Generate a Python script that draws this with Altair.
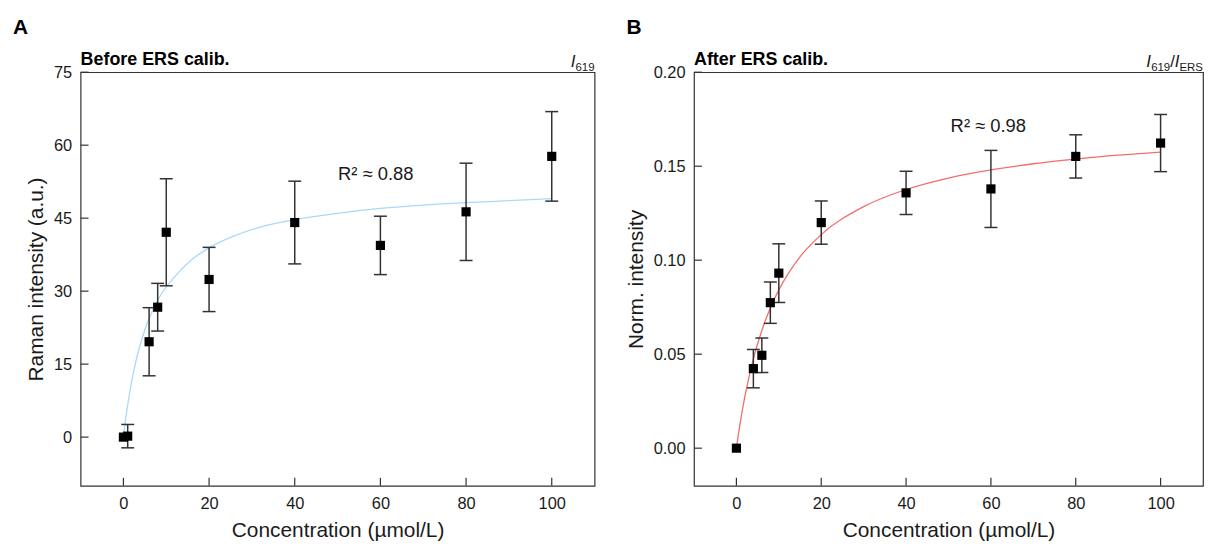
import altair as alt
import pandas as pd

FONT = "Liberation Sans"
INK = "#1a1a1a"

# ---- Panel A : before ERS calibration ----
conc_a = [0, 1, 6, 8, 10, 20, 40, 60, 80, 100]
raman_a = [0.0, 0.2, 19.6, 26.7, 42.1, 32.4, 44.1, 39.4, 46.3, 57.7]
err_a = [0.0, 2.4, 7.0, 4.9, 11.0, 6.6, 8.5, 6.0, 10.0, 9.2]
fit_x_a = [0, 0.5, 1, 2, 3, 5, 8, 12, 16, 20, 26, 33, 40, 50, 60, 70, 80, 90, 100]
fit_y_a = [0, 3.6, 6.6, 11.8, 15.9, 22.0, 28.1, 33.0, 36.5, 38.9, 41.4, 43.4, 44.7,
           46.0, 47.0, 47.7, 48.2, 48.6, 49.0]

# ---- Panel B : after ERS calibration ----
conc_b = [0, 4, 6, 8, 10, 20, 40, 60, 80, 100]
norm_b = [0.0, 0.0423, 0.0494, 0.0774, 0.0931, 0.1200, 0.1358, 0.1379, 0.1552, 0.1623]
err_b = [0.0, 0.0102, 0.0092, 0.0110, 0.0156, 0.0115, 0.0115, 0.0205, 0.0115, 0.0152]
fit_x_b = [0, 1, 2, 4, 6, 8, 10, 15, 20, 30, 40, 50, 60, 70, 80, 90, 100]
fit_y_b = [0, 0.0149, 0.0275, 0.0475, 0.0627, 0.0746, 0.0842, 0.1018, 0.1136, 0.1285,
           0.1376, 0.1437, 0.1480, 0.1513, 0.1538, 0.1559, 0.1575]

x_ticks = [0, 20, 40, 60, 80, 100]
y_ticks_a = [0, 15, 30, 45, 60, 75]
y_ticks_b = [0.00, 0.05, 0.10, 0.15, 0.20]

H = 416
TICK = 8


def panel(W, letter, title, xs, ys, errs, fx, fy, ydom, yticks, yfmt, ytitle,
          fit_color, r2_text, r2_xy, corner):
    pts = pd.DataFrame({"x": xs, "y": ys, "err": errs})
    pts["lo"] = pts["y"] - pts["err"]
    pts["hi"] = pts["y"] + pts["err"]
    fit = pd.DataFrame({"x": fx, "y": fy})

    xscale = alt.Scale(domain=[-10, 110], nice=False, zero=False)
    yscale = alt.Scale(domain=ydom, nice=False, zero=False)
    xaxis = alt.Axis(values=x_ticks, title="Concentration (µmol/L)", labelPadding=10,
                     titlePadding=8)
    yaxis = alt.Axis(values=yticks, format=yfmt, title=ytitle, labelPadding=9,
                     titlePadding=7)

    def X(f):
        return alt.X(f"{f}:Q", scale=xscale, axis=xaxis)

    def Y(f):
        return alt.Y(f"{f}:Q", scale=yscale, axis=yaxis)

    base = alt.Chart(pts)
    curve = alt.Chart(fit).mark_line(interpolate="monotone", color=fit_color,
                                     strokeWidth=1.3).encode(x=X("x"), y=Y("y"))
    bars = base.transform_filter("datum.err > 0")
    stem = bars.mark_rule(color="#333", strokeWidth=1.5).encode(
        x=X("x"), y=Y("lo"), y2="hi")
    cap_lo = bars.mark_tick(orient="horizontal", size=13, thickness=1.5,
                            color="#333", opacity=1).encode(x=X("x"), y=Y("lo"))
    cap_hi = bars.mark_tick(orient="horizontal", size=13, thickness=1.5,
                            color="#333", opacity=1).encode(x=X("x"), y=Y("hi"))
    squares = base.mark_square(size=85, color="black", opacity=1).encode(
        x=X("x"), y=Y("y"))

    ytk = alt.Chart(pd.DataFrame({"v": yticks})).mark_rule(
        color="#333", strokeWidth=1.2).encode(
        y=Y("v"), x=alt.value(0), x2=alt.value(TICK))
    xtk = alt.Chart(pd.DataFrame({"v": x_ticks})).mark_rule(
        color="#333", strokeWidth=1.2).encode(
        x=X("v"), y=alt.value(H), y2=alt.value(H - TICK))

    r2 = alt.Chart(pd.DataFrame({"x": [r2_xy[0]], "y": [r2_xy[1]], "t": [r2_text]})).mark_text(
        font=FONT, fontSize=18.5, align="left", baseline="alphabetic", color=INK
    ).encode(x=X("x"), y=Y("y"), text="t:N")

    one = pd.DataFrame({"k": [0]})
    lab = alt.Chart(one).mark_text(
        text=letter, font=FONT, fontSize=21, fontWeight="bold", align="left",
        baseline="alphabetic", color="black").encode(x=alt.value(-68), y=alt.value(-38))
    ttl = alt.Chart(one).mark_text(
        text=title, font=FONT, fontSize=18, fontWeight="bold", align="left",
        baseline="alphabetic", color="black").encode(x=alt.value(0), y=alt.value(-7))

    corner_layers = []
    for txt, off, size, style, dy in corner:
        corner_layers.append(alt.Chart(one).mark_text(
            text=txt, font=FONT, fontSize=size, fontStyle=style, align="right",
            baseline="alphabetic", color=INK).encode(x=alt.value(W - off), y=alt.value(dy)))

    return alt.layer(curve, stem, cap_lo, cap_hi, squares, ytk, xtk, r2, lab, ttl,
                     *corner_layers).properties(width=W, height=H)


corner_a = [("619", 0, 11.5, "normal", -1), ("I", 19.3, 17, "italic", -5)]
corner_b = [("ERS", 0, 11.5, "normal", -1), ("I", 23.6, 17, "italic", -5),
            ("/", 28.3, 17, "normal", -5), ("619", 33.0, 11.5, "normal", -1),
            ("I", 52.3, 17, "italic", -5)]

pa = panel(517, "A", "Before ERS calib.", conc_a, raman_a, err_a, fit_x_a, fit_y_a,
           [-10, 75], y_ticks_a, "d", "Raman intensity (a.u.)", "#aad9f7",
           "R² ≈ 0.88", (50.1, 52.8), corner_a)
pb = panel(512, "B", "After ERS calib.", conc_b, norm_b, err_b, fit_x_b, fit_y_b,
           [-0.02, 0.20], y_ticks_b, ".2f", "Norm. intensity", "#f26d6d",
           "R² ≈ 0.98", (50.5, 0.168), corner_b)

chart = alt.hconcat(pa, pb, spacing=29).properties(
    padding={"left": 4, "top": 7, "right": 0, "bottom": 0}
).configure_view(
    stroke="#333", strokeWidth=1.2
).configure_axis(
    domain=False, ticks=False, grid=False,
    labelFont=FONT, labelFontSize=16.5, labelColor=INK,
    titleFont=FONT, titleFontSize=21, titleFontWeight="normal", titleColor=INK
)

chart.save("out.html", embed_options={"renderer": "svg", "actions": False})
